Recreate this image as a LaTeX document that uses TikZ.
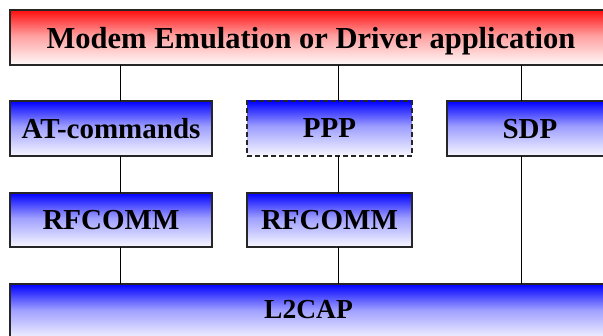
\documentclass[tikz,border=0pt]{standalone}
\usepackage{fontspec}
\setmainfont{Liberation Serif}

% fades quickly from the top edge to white
\pgfdeclareverticalshading{bluefade}{100bp}{color(0bp)=(blue!3!white); color(25bp)=(blue!3!white);
  color(52bp)=(blue!38!white); color(75bp)=(blue); color(100bp)=(blue)}
\pgfdeclareverticalshading{redfade}{100bp}{color(0bp)=(red!2!white); color(25bp)=(red!2!white);
  color(52bp)=(red!38!white); color(75bp)=(red!95!white); color(100bp)=(red!95!white)}

\tikzset{
  layer/.style={rectangle, draw=black!85, line width=1.4pt, inner sep=0pt, outer sep=0pt,
    anchor=north west, font=\fontsize{29}{32}\selectfont\bfseries, text depth=0pt,
    shading=bluefade},
  applayer/.style={layer, shading=redfade, font=\fontsize{30.5}{33}\selectfont\bfseries},
  optlayer/.style={layer, dash pattern=on 5pt off 3pt},
  link/.style={line width=0.9pt, black}
}

\begin{document}
\begin{tikzpicture}[x=1pt,y=-1pt]
  \useasboundingbox (0,0) rectangle (603,336);
  \clip (0,0) rectangle (603,336);

  % Application on top
  \node[applayer, minimum width=602pt, minimum height=55pt] (app) at (10,10) {Modem Emulation or Driver application};

  % Second row
  \node[layer, minimum width=202pt, minimum height=55pt] (atc) at (10,101) {AT-commands};
  \node[optlayer, minimum width=165pt, minimum height=55pt] (ppp) at (247,101) {PPP};
  \node[layer, minimum width=166pt, minimum height=55pt] (sdp) at (447,101) {SDP};

  % RFCOMM row
  \node[layer, minimum width=202pt, minimum height=54pt] (rfa) at (10,193) {RFCOMM};
  \node[layer, minimum width=165pt, minimum height=54pt] (rfb) at (247,193) {RFCOMM};

  % L2CAP at the bottom, runs off the page
  \node[layer, minimum width=597pt, minimum height=56pt, text depth=6pt,
    font=\fontsize{27.5}{31}\selectfont\bfseries] (l2cap) at (10,284) {L2CAP};

  % Connectors
  \draw[link] ([xshift=9pt]atc.north) -- ([xshift=9pt]atc.north |- app.south);
  \draw[link] ([xshift=8.5pt]ppp.north) -- ([xshift=8.5pt]ppp.north |- app.south);
  \draw[link] ([xshift=-9pt]sdp.north) -- ([xshift=-9pt]sdp.north |- app.south);
  \draw[link] ([xshift=9pt]atc.south) -- ([xshift=9pt]rfa.north);
  \draw[link] ([xshift=8.5pt]ppp.south) -- ([xshift=8.5pt]rfb.north);
  \draw[link] ([xshift=9pt]rfa.south) -- ([xshift=9pt]rfa.south |- l2cap.north);
  \draw[link] ([xshift=8.5pt]rfb.south) -- ([xshift=8.5pt]rfb.south |- l2cap.north);
  \draw[link] ([xshift=-9pt]sdp.south) -- ([xshift=-9pt]sdp.south |- l2cap.north);
\end{tikzpicture}
\end{document}
